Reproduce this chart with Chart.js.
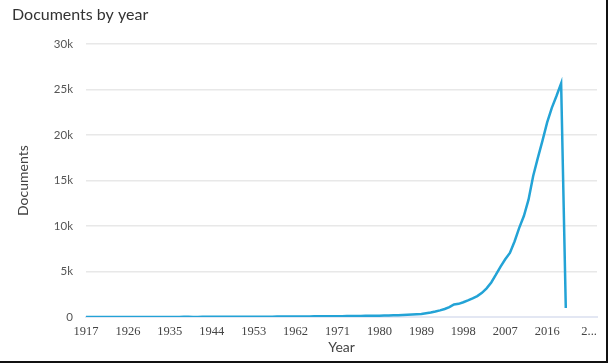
<!DOCTYPE html>
<html>
<head>
<meta charset="utf-8">
<script src="https://cdn.jsdelivr.net/npm/chart.js@4/dist/chart.umd.min.js"></script>
<style>
  html, body { margin: 0; padding: 0; background: #fff; }
  #wrap {
    width: 606px; height: 361px;
    border-right: 2px solid #111; border-bottom: 2px solid #111;
    position: relative;
  }
</style>
</head>
<body>
<div id="wrap"><canvas id="docs-chart" width="606" height="361"></canvas></div>
<script>
// Documents per year
const years = [
  1917, 1918, 1919, 1920, 1921, 1922, 1923, 1924, 1925, 1926, 1927, 1928, 1929,
  1930, 1931, 1932, 1933, 1934, 1935, 1936, 1937, 1938, 1939,
  1940, 1941, 1942, 1943, 1944, 1945, 1946, 1947, 1948, 1949,
  1950, 1951, 1952, 1953, 1954, 1955, 1956, 1957, 1958, 1959,
  1960, 1961, 1962, 1963, 1964, 1965, 1966, 1967, 1968, 1969,
  1970, 1971, 1972, 1973, 1974, 1975, 1976, 1977, 1978, 1979,
  1980, 1981, 1982, 1983, 1984, 1985, 1986, 1987, 1988, 1989,
  1990, 1991, 1992, 1993, 1994, 1995, 1996, 1997, 1998, 1999,
  2000, 2001, 2002, 2003, 2004, 2005, 2006, 2007, 2008, 2009,
  2010, 2011, 2012, 2013, 2014, 2015, 2016, 2017, 2018, 2019,
  2020
];
const documents = [
  3, 2, 4, 3, 5, 4, 6, 5, 7, 6, 8, 7, 9,
  8, 10, 9, 11, 12, 10, 13, 12, 14, 15,
  13, 12, 14, 16, 15, 18, 20, 22, 24, 25,
  27, 29, 30, 32, 34, 36, 38, 40, 43, 46,
  48, 52, 55, 58, 62, 66, 70, 74, 78, 82,
  86, 90, 95, 100, 106, 112, 118, 125, 133, 142,
  150, 162, 175, 190, 205, 225, 248, 275, 305, 340,
  420, 500, 600, 730, 880, 1080, 1380, 1450, 1620, 1820,
  2050, 2300, 2650, 3150, 3800, 4650, 5550, 6350, 7050, 8300,
  9800, 11100, 12900, 15500, 17500, 19400, 21400, 23000, 24300, 25700,
  1000
];
// x axis labels shown every 9 years, the last one cut off
const yearTicks = [1917, 1926, 1935, 1944, 1953, 1962, 1971, 1980, 1989, 1998, 2007, 2016, 2025];
const docTicks = [0, 5000, 10000, 15000, 20000, 25000, 30000];

const points = years.map((y, i) => ({ x: y, y: documents[i] }));

const ctx = document.getElementById('docs-chart').getContext('2d');
const chart = new Chart(ctx, {
  type: 'line',
  data: {
    datasets: [{
      label: 'Documents',
      data: points,
      borderColor: '#23a3d6',
      borderWidth: 2.5,
      pointRadius: 0,
      tension: 0,
      fill: false
    }]
  },
  options: {
    responsive: false,
    animation: false,
    layout: { padding: { left: 12, right: 9, top: 0, bottom: 0 } },
    plugins: {
      legend: { display: false },
      tooltip: { enabled: false },
      title: {
        display: true,
        text: 'Documents by year',
        align: 'start',
        color: '#333',
        font: { family: 'Lato', size: 16, weight: 'normal' },
        padding: { top: 5, bottom: 20 }
      }
    },
    scales: {
      x: {
        type: 'linear',
        min: 1917,
        max: 2026.7,
        afterBuildTicks: (scale) => { scale.ticks = yearTicks.map(v => ({ value: v })); },
        afterFit: (scale) => { scale.height = 44; },
        grid: { display: false, drawTicks: false },
        border: { display: true, color: '#e3e7f3', width: 2 },
        ticks: {
          padding: 7,
          autoSkip: false,
          maxRotation: 0,
          color: '#444',
          font: { family: 'Liberation Serif', size: 12.5 },
          callback: (v) => v > 2020 ? '2...' : String(v)
        },
        title: {
          display: true,
          text: 'Year',
          color: '#444',
          font: { family: 'Lato', size: 14 },
          padding: { top: 0, bottom: 5 }
        }
      },
      y: {
        min: 0,
        max: 30000,
        afterBuildTicks: (scale) => { scale.ticks = docTicks.map(v => ({ value: v })); },
        afterFit: (scale) => { scale.width = 74; },
        grid: { color: '#e8e8e8', lineWidth: 1.5, drawTicks: false },
        border: { display: false },
        ticks: {
          padding: 13,
          color: '#555',
          font: { family: 'Lato', size: 11.5 },
          callback: (v) => v === 0 ? '0' : (v / 1000) + 'k'
        },
        title: {
          display: true,
          text: 'Documents',
          color: '#444',
          font: { family: 'Lato', size: 14 },
          padding: { top: 3, bottom: 4 }
        }
      }
    }
  }
});
</script>
</body>
</html>
